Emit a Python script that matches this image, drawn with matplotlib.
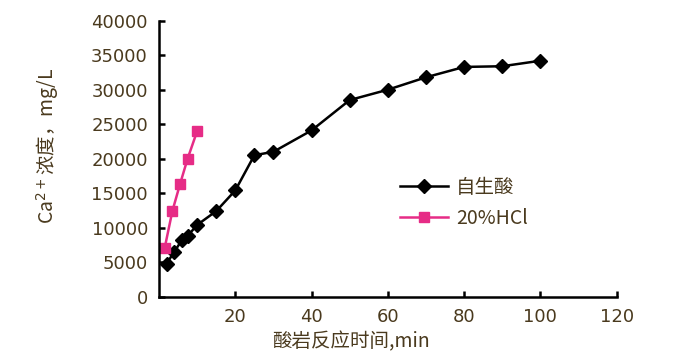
import numpy as np
import matplotlib
matplotlib.use("Agg")
import matplotlib.pyplot as plt

plt.rcParams['font.family'] = ['Noto Sans CJK SC', 'DejaVu Sans']

# 自生酸
t_self = [2, 4, 6, 7.5, 10, 15, 20, 25, 30, 40, 50, 60, 70, 80, 90, 100]
ca_self = [4800, 6500, 8200, 8800, 10400, 12400, 15400, 20500, 21000,
           24100, 28500, 30000, 31800, 33300, 33400, 34200]
# 20%HCl
t_hcl = [1.5, 3.5, 5.5, 7.5, 10]
ca_hcl = [7100, 12400, 16300, 20000, 24000]

xticks = [20, 40, 60, 80, 100, 120]
yticks = np.arange(0, 40001, 5000)

txt = '#4a3a1e'
pink = '#e62c86'

fig = plt.figure(figsize=(6.86, 3.54), dpi=100)
ax = fig.add_axes([0.2318, 0.162, 0.899 - 0.2318, 0.9415 - 0.162])

ax.plot(t_self, ca_self, '-D', color='black', lw=1.8, ms=7, label='自生酸')
ax.plot(t_hcl, ca_hcl, '-s', color=pink, lw=1.8, ms=7.5, label='20%HCl')

ax.set_xlim(0, 120)
ax.set_ylim(0, 40000)
ax.set_xticks(xticks)
ax.set_yticks(yticks)
ax.tick_params(direction='in', length=4, width=1.8, colors='black',
               labelcolor=txt, labelsize=13)
ax.tick_params(axis='y', pad=8)
ax.tick_params(axis='x', pad=8)
for lab in ax.get_xticklabels() + ax.get_yticklabels():
    lab.set_family('DejaVu Sans')

for s in ['top', 'right']:
    ax.spines[s].set_visible(False)
for s in ['left', 'bottom']:
    ax.spines[s].set_linewidth(1.8)

ax.set_xlabel('酸岩反应时间,min', fontsize=14, color=txt)
ax.xaxis.set_label_coords(0.42, -0.125)
fig.text(48 / 686, 1 - 146 / 354, 'Ca$^{2+}$浓度，mg/L', rotation=90,
         fontsize=14, color=txt, ha='center', va='center')

leg = ax.legend(loc='center left', bbox_to_anchor=(390 / 686, 1 - 203 / 354),
                bbox_transform=fig.transFigure, frameon=False, fontsize=14,
                handlelength=2.5, handletextpad=0.4, labelspacing=0.5,
                borderpad=0)
for t in leg.get_texts():
    t.set_color(txt)

fig.savefig('out.png', dpi=100)
